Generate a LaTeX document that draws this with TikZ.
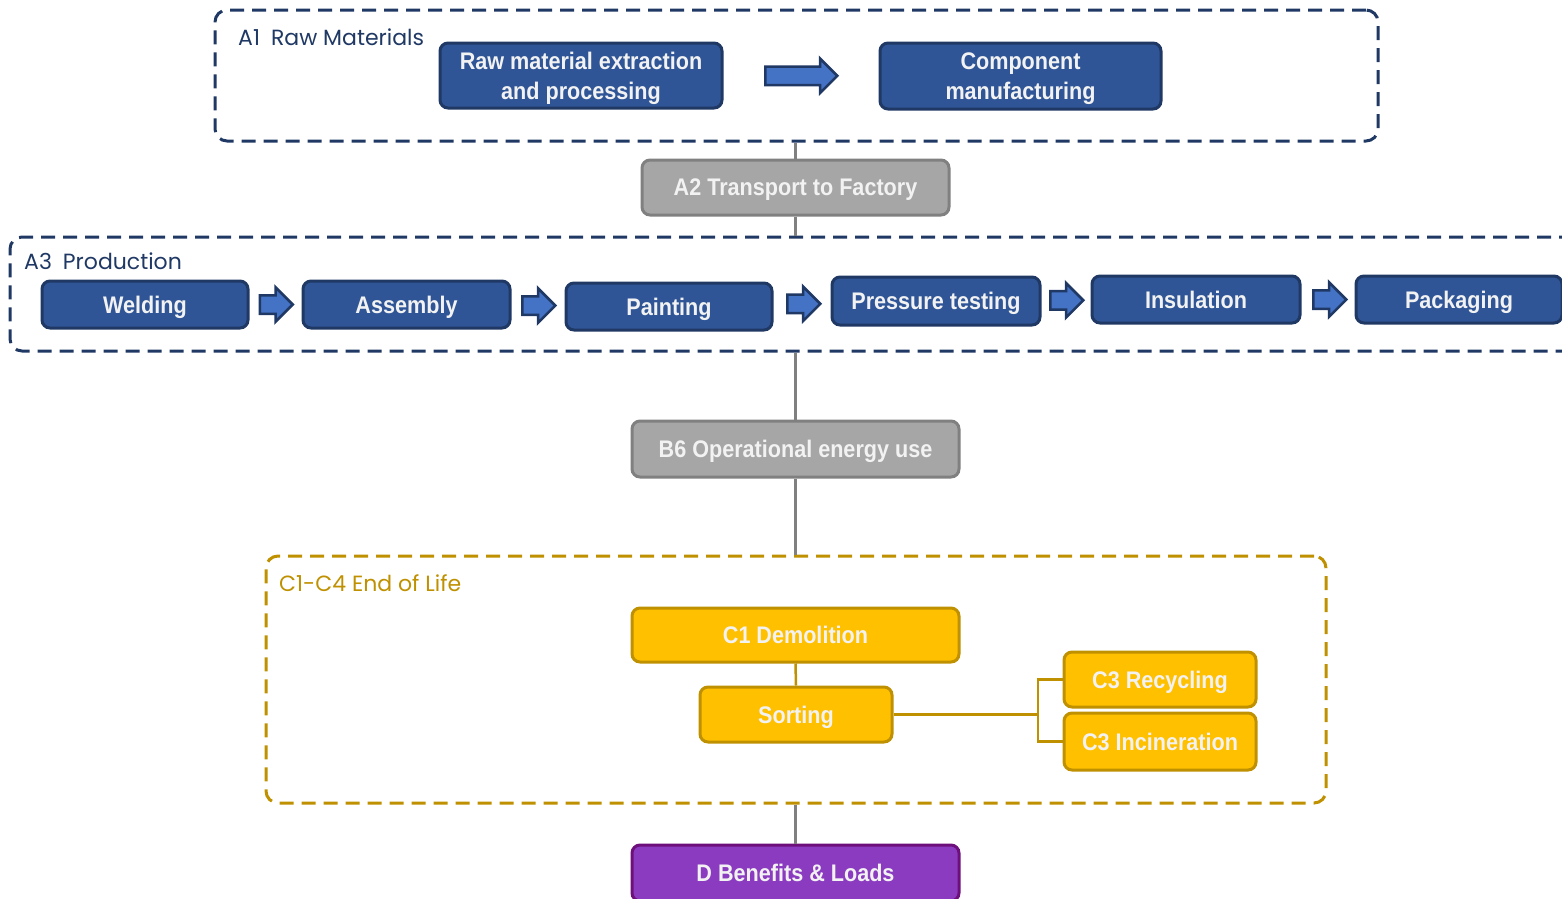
\documentclass[tikz,border=0pt]{standalone}
\usepackage{fontspec}
\usetikzlibrary{shapes.arrows,calc}

\newfontfamily\boxfont{Liberation Sans}[FakeStretch=0.9]
\newfontfamily\framefont{Poppins}

\definecolor{navyfill}{HTML}{2F5597}
\definecolor{navyline}{HTML}{1F3864}
\definecolor{arrowfill}{HTML}{4472C4}
\definecolor{grayfill}{HTML}{A6A6A6}
\definecolor{grayline}{HTML}{808080}
\definecolor{goldfill}{HTML}{FFC000}
\definecolor{goldline}{HTML}{BF9000}
\definecolor{purplefill}{HTML}{8A3BC0}
\definecolor{purpleline}{HTML}{6E107C}
\definecolor{boxtext}{HTML}{F2F2F2}

\tikzset{
  stage/.style={rectangle, rounded corners=8pt, line width=3pt, inner sep=0pt,
    text depth=0pt, text=boxtext, align=center,
    font=\boxfont\bfseries\fontsize{24}{30}\selectfont},
  navybox/.style={stage, draw=navyline, fill=navyfill},
  graybox/.style={stage, draw=grayline, fill=grayfill},
  goldbox/.style={stage, draw=goldline, fill=goldfill},
  purplebox/.style={stage, draw=purpleline, fill=purplefill},
  blockarr/.style={single arrow, draw=navyline, fill=arrowfill, line width=2.5pt,
    inner xsep=0pt, inner ysep=8pt, single arrow head extend=8pt, anchor=tail},
  phase/.style={rectangle, rounded corners=12pt, line width=3pt,
    dash pattern=on 14pt off 8pt, inner sep=0pt},
  phaselabel/.style={anchor=west, inner sep=0pt, font=\framefont\fontsize{22}{26}\selectfont},
  link/.style={grayline, line width=3pt},
  goldlink/.style={goldline, line width=2.5pt}
}

\begin{document}
\begin{tikzpicture}[x=1pt, y=-1pt]

\useasboundingbox (0,0) rectangle (1562,898);
\clip (0,0) rectangle (1562,898);

% A1 Raw materials
\node[phase, draw=navyline, minimum width=1163pt, minimum height=131pt] (a1) at (796.5,75.5) {};
\node[phaselabel, text=navyline] (a1lbl) at (238,37) {A1\enspace Raw Materials};
\node[navybox, minimum width=282pt, minimum height=65pt] (raw) at (581,75.5) {Raw material extraction\\and processing};
\node[navybox, minimum width=281pt, minimum height=66pt] (comp) at (1020.5,76) {Component\\manufacturing};
\node[blockarr, minimum height=72pt] (arrA) at ($(raw.east)!0.5!(comp.west)+(-37pt,0)$) {};

% A2 Transport
\node[graybox, minimum width=307pt, minimum height=55pt] (a2) at (795.5,187.5) {A2 Transport to Factory};

% A3 Production
\node[phase, draw=navyline, minimum width=1575pt, minimum height=114pt] (a3) at (797.5,294) {};
\node[phaselabel, text=navyline] (a3lbl) at (24,261) {A3\enspace Production};
\node[navybox, minimum width=206pt, minimum height=47pt] (weld) at (145,304.5) {Welding};
\node[navybox, minimum width=207pt, minimum height=47pt] (assy) at (406.5,304.5) {Assembly};
\node[navybox, minimum width=206pt, minimum height=47pt] (paint) at (669,306.5) {Painting};
\node[navybox, minimum width=208pt, minimum height=48pt] (press) at (936,301) {Pressure testing};
\node[navybox, minimum width=208pt, minimum height=47pt] (insul) at (1196,299.5) {Insulation};
\node[navybox, minimum width=206pt, minimum height=47pt] (pack) at (1459,299.5) {Packaging};

\node[blockarr, minimum height=33pt] (arr1) at ($(weld.east)!0.5!(assy.west)+(-17pt,0)$) {};
\node[blockarr, minimum height=33pt] (arr2) at ($(assy.east)!0.5!(paint.west)+(-17pt,0)$) {};
\node[blockarr, minimum height=33pt] (arr3) at ($(paint.east)!0.5!(press.west)+(-16pt,0)$) {};
\node[blockarr, minimum height=33pt] (arr4) at ($(press.east)!0.5!(insul.west)+(-17pt,0)$) {};
\node[blockarr, minimum height=33pt] (arr5) at ($(insul.east)!0.5!(pack.west)+(-16pt,0)$) {};

% B6 Use stage
\node[graybox, minimum width=327pt, minimum height=56pt] (b6) at (795.5,449) {B6 Operational energy use};

% C1-C4 End of life
\node[phase, draw=goldline, minimum width=1060pt, minimum height=247pt] (eol) at (796,679.5) {};
\node[phaselabel, text=goldline] (eollbl) at (279,583) {C1-C4 End of Life};
\node[goldbox, minimum width=327pt, minimum height=54pt] (c1) at (795.5,635) {C1 Demolition};
\node[goldbox, minimum width=192pt, minimum height=55pt] (sort) at (796,714.5) {Sorting};
\node[goldbox, minimum width=192pt, minimum height=55pt] (recyc) at (1160,679.5) {C3 Recycling};
\node[goldbox, minimum width=192pt, minimum height=57pt] (incin) at (1160,741.5) {C3 Incineration};
\coordinate (split) at (1038,714.5);

% D Beyond
\node[purplebox, minimum width=327pt, minimum height=56pt] (dben) at (795.5,873) {D Benefits \& Loads};

% Links between stages
\draw[link] (a2.north |- a1.south) -- (a2.north);
\draw[link] (a2.south) -- (a2.south |- a3.north);
\draw[link] (b6.north |- a3.south) -- (b6.north);
\draw[link] (b6.south) -- (b6.south |- eol.north);
\draw[link] (dben.north |- eol.south) -- (dben.north);

% End of life links
\draw[goldlink] (c1.south) -- (sort.north);
\draw[goldlink] (sort.east) -- (split);
\draw[goldlink] (recyc.west) -| (split) |- (incin.west);

\end{tikzpicture}
\end{document}
